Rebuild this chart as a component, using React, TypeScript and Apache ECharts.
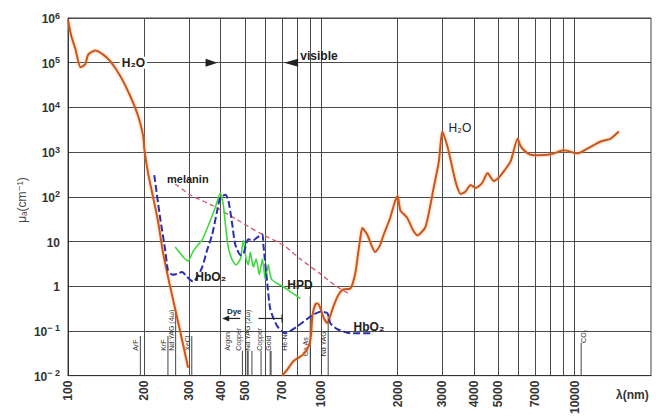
import React, { useEffect, useRef } from 'react';
import * as echarts from 'echarts';

// ---- axes ----
const xGridValues = [200, 300, 400, 500, 600, 700, 800, 900, 1000, 2000, 3000, 4000, 5000, 6000, 7000, 8000, 9000, 10000];
const xLabelValues = [100, 200, 300, 400, 500, 700, 1000, 2000, 3000, 4000, 5000, 7000, 10000];
const yTickValues = [0.01, 0.1, 1, 10, 100, 1e3, 1e4, 1e5, 1e6];

// ---- absorption spectra [wavelength nm, mu_a cm^-1] ----
const waterUV: [number, number][] = [
  [100, 9.0e5], [103, 4.0e5], [107, 2.0e5], [112, 7.9e4], [117, 9.2e4], [120, 1.5e5], [128, 1.87e5],
  [138, 1.5e5], [147, 1.07e5], [161, 5.0e4], [176, 1.8e4], [189, 6.5e3], [198, 2.3e3], [200, 1.2e3],
  [207, 340], [217, 95], [227, 27], [237, 5.8], [253, 0.98], [277, 0.1], [298, 0.015],
];
const waterIR: [number, number][] = [
  [700, 0.01], [736, 0.014], [775, 0.021], [811, 0.025], [849, 0.03], [890, 0.045], [910, 0.08],
  [922, 0.22], [948, 0.4], [968, 0.41], [990, 0.33], [1020, 0.2], [1056, 0.15], [1085, 0.22],
  [1115, 0.35], [1160, 0.6], [1220, 0.85], [1300, 0.88], [1360, 1.9], [1400, 6], [1425, 12],
  [1450, 20], [1520, 14], [1580, 8], [1630, 5.8], [1700, 8], [1760, 14], [1870, 34], [1940, 70],
  [2000, 105], [2050, 50], [2180, 34], [2300, 18], [2390, 13.7], [2570, 20.6], [2700, 70],
  [2760, 136], [2910, 625], [3000, 2900], [3150, 1300], [3250, 600], [3400, 200], [3550, 115],
  [3700, 130], [3880, 184], [4060, 158], [4300, 200], [4530, 339], [4790, 226], [5000, 263],
  [5300, 400], [5590, 625], [5950, 2000], [6120, 1340], [6520, 938], [6890, 847], [8040, 891],
  [9050, 1094], [10280, 938], [11260, 1210], [12670, 1729], [13880, 2013], [14930, 2877],
];
const melanin: [number, number][] = [
  [265, 194], [303, 111], [374, 63], [478, 28], [574, 15.2], [708, 8.3], [826, 4.05],
  [991, 1.89], [1136, 1.03], [1302, 0.65],
];
const hbo2: [number, number][] = [
  [219, 306], [231, 34], [242, 6.4], [248, 2.3], [258, 1.8], [270, 1.89], [282, 2.09], [295, 1.62],
  [312, 1.26], [324, 1.62], [339, 2.7], [354, 6.4], [371, 14.5], [388, 49], [399, 95], [418, 111],
  [429, 86], [445, 24], [457, 8.7], [479, 5.0], [492, 5.2], [515, 11.2], [539, 10.7], [559, 12.4],
  [585, 14.5], [590, 8.7], [612, 1.14], [629, 0.3], [670, 0.127], [721, 0.089], [804, 0.127],
  [905, 0.21], [991, 0.27], [1056, 0.25], [1085, 0.148], [1157, 0.109], [1302, 0.089], [1606, 0.089],
];
const hpd: [number, number][] = [
  [265, 7.5], [285, 4.5], [298, 3.66], [312, 6.1], [339, 11.2], [358, 22.9], [381, 57], [399, 122],
  [410, 66.5], [418, 24], [429, 7.5], [445, 3.85], [461, 3.0], [479, 4.05], [492, 10.7], [505, 4.05],
  [515, 3.0], [524, 5.8], [539, 2.7], [553, 4.05], [569, 1.8], [585, 4.05], [601, 1.39], [617, 3.0],
  [634, 1.47], [670, 1.14], [708, 0.975], [754, 0.76], [826, 0.53],
];

// ---- laser lines ----
const laserNames = ['ArF', 'KrF', 'Nd:YAG (4ω)', 'XeCl', 'Argon', '', 'Copper', 'Nd:YAG (2ω)', 'Copper', 'Gold', 'He-Ne', 'Ga As', 'Nd YAG', 'CO₂'];
const laserWavelengths = [193, 248, 266, 308, 488, 514, 510, 532, 578, 628, 633, 904, 1064, 10600];
const laserTops = [0.077, 0.077, 0.3, 0.077, 0.036, 0.036, 0.036, 0.036, 0.036, 0.036, 0.036, 0.59, 0.215, 0.054];

// layout of the laser labels (label base value, pixel offset)
const laserLabelBase = [0.036, 0.036, 0.036, 0.036, 0.036, 0.036, 0.036, 0.036, 0.036, 0.036, 0.036, 0.027, 0.027, 0.054];
const laserLabelDx = [-1, -1, -1, -1, -11, 0, -5, -1, 2, 2, 17, -1, -1, 6];

const FONT = "'Liberation Sans', Arial, 'DejaVu Sans', sans-serif";

export default function App() {
  const ref = useRef<HTMLDivElement>(null);
  useEffect(() => {
    document.body.style.margin = '0';
    const chart = echarts.init(ref.current!, null, { renderer: 'svg' });
    const lineSeries = (name: string, data: [number, number][], color: string, width: number, type: any, extra: any = {}) => ({
      type: 'line', name, data, showSymbol: false, symbol: 'none', smooth: 0.2, silent: true,
      lineStyle: { color, width, type, ...extra }, z: 3,
    });
    chart.setOption({
      animation: false,
      grid: { left: 68, right: 5, top: 18, bottom: 37, show: true, borderColor: '#444', borderWidth: 1 },
      xAxis: {
        type: 'log', logBase: 10, min: 100, max: 20000,
        axisLine: { show: true, lineStyle: { color: '#333', width: 1 } },
        axisTick: { show: false, customValues: xGridValues },
        axisLabel: {
          customValues: xLabelValues, rotate: 90, margin: 5, fontSize: 12, fontWeight: 'bold', color: '#333', fontFamily: FONT,
          formatter: (v: number) => String(Math.round(v)),
        },
        splitLine: { show: true, lineStyle: { color: '#4a4a4a', width: 1 } },
      },
      yAxis: {
        type: 'log', logBase: 10, min: 0.01, max: 1e6,
        axisLine: { show: true, lineStyle: { color: '#333', width: 1 } },
        axisTick: { show: false, customValues: yTickValues },
        axisLabel: {
          customValues: yTickValues, margin: 8, color: '#333', fontFamily: FONT,
          formatter: (v: number) => {
            const e = Math.round(Math.log10(v));
            if (e === 0) return '{b|1}';
            if (e === 1) return '{b|10}';
            return '{b|10}{e|' + (e < 0 ? '− ' + -e : String(e)) + '}';
          },
          rich: {
            b: { fontSize: 12, fontWeight: 'bold', fontFamily: FONT, color: '#333', verticalAlign: 'bottom', lineHeight: 14 },
            e: { fontSize: 9, fontWeight: 'bold', fontFamily: FONT, color: '#333', verticalAlign: 'bottom', lineHeight: 14, padding: [0, 0, 5, 0] },
          },
        },
        splitLine: { show: true, lineStyle: { color: '#4a4a4a', width: 1 } },
      },
      series: [
        lineSeries('water UV', waterUV, '#c9561f', 2, 'solid', { shadowColor: 'rgba(245,160,90,0.7)', shadowBlur: 3 }),
        lineSeries('water IR', waterIR, '#c9561f', 2, 'solid', { shadowColor: 'rgba(245,160,90,0.7)', shadowBlur: 3 }),
        lineSeries('melanin', melanin, '#d4586c', 1.3, [5, 3]),
        lineSeries('HPD', hpd, '#3fd83f', 1.6, 'solid'),
        lineSeries('HbO2', hbo2, '#2b2fae', 2, [7, 3]),
        {
          type: 'custom', name: 'lasers', silent: true, z: 2,
          data: laserWavelengths.map((w, i) => [w, laserTops[i]]),
          renderItem: (params: any, api: any) => {
            const i = params.dataIndex;
            const w = api.value(0);
            const top = api.value(1);
            const p0 = api.coord([w, 0.01]);
            const p1 = api.coord([w, top]);
            const pl = api.coord([w, laserLabelBase[i]]);
            return {
              type: 'group',
              children: [
                { type: 'line', shape: { x1: p0[0], y1: p0[1], x2: p1[0], y2: p1[1] }, style: { stroke: '#444', lineWidth: 1 } },
                {
                  type: 'text', x: pl[0] + laserLabelDx[i], y: pl[1], rotation: Math.PI / 2,
                  style: { text: laserNames[i], fontSize: 7, fontFamily: FONT, fill: '#333', align: 'left', verticalAlign: 'bottom' },
                },
              ],
            };
          },
        },
      ],
    });

    const px = (l: number, m: number) => chart.convertToPixel({ gridIndex: 0 }, [l, m]) as number[];
    const txt = (l: number, m: number, text: string, opts: any = {}) => {
      const p = px(l, m);
      return {
        type: 'text', x: p[0], y: p[1], z: 10,
        style: { text, fontSize: 12, fontWeight: 'bold', fontFamily: FONT, fill: '#222', align: 'left', verticalAlign: 'middle', ...opts },
      };
    };
    const a = px(400, 1e5);
    const b = px(700, 1e5);
    const d1 = px(478, 0.19);
    const d2 = px(406, 0.19);
    const d3 = px(564, 0.19);
    const d4 = px(700, 0.19);
    const graphic: any[] = [
      txt(160, 1e5, 'H₂O', { backgroundColor: '#fff', padding: [0, 2], align: 'left' }),
      { type: 'polygon', z: 10, shape: { points: [[a[0] - 3, a[1]], [a[0] - 15, a[1] - 4], [a[0] - 15, a[1] + 4]] }, style: { fill: '#222' } },
      { type: 'polygon', z: 10, shape: { points: [[b[0] + 2, b[1]], [b[0] + 16, b[1] - 4], [b[0] + 16, b[1] + 4]] }, style: { fill: '#222' } },
      txt(826, 1.4e5, 'visible'),
      txt(3177, 3520, 'H₂O', { fontWeight: 'normal', fontSize: 12 }),
      txt(246, 250, 'melanin', { fontSize: 11 }),
      txt(318, 1.62, 'HbO₂'),
      txt(734, 1.05, 'HPD'),
      txt(1340, 0.121, 'HbO₂'),
      txt(453, 0.27, 'Dye', { fontSize: 8, align: 'center' }),
      { type: 'line', z: 10, shape: { x1: d1[0], y1: d1[1], x2: d2[0] + 5, y2: d2[1] }, style: { stroke: '#222', lineWidth: 1.2 } },
      { type: 'polygon', z: 10, shape: { points: [[d2[0], d2[1]], [d2[0] + 7, d2[1] - 3], [d2[0] + 7, d2[1] + 3]] }, style: { fill: '#222' } },
      { type: 'line', z: 10, shape: { x1: d3[0], y1: d3[1], x2: d4[0], y2: d4[1] }, style: { stroke: '#222', lineWidth: 1.2 } },
      { type: 'line', z: 10, shape: { x1: d4[0], y1: d4[1] - 4, x2: d4[0], y2: d4[1] + 4 }, style: { stroke: '#222', lineWidth: 1.2 } },
      {
        type: 'text', x: 616, y: 395, z: 10,
        style: { text: 'λ(nm)', fontSize: 12, fontWeight: 'bold', fontFamily: FONT, fill: '#333', align: 'left', verticalAlign: 'middle' },
      },
      {
        type: 'text', x: 22, y: 200, rotation: Math.PI / 2, z: 10,
        style: { text: 'μₐ(cm⁻¹)', fontSize: 12, fontFamily: FONT, fill: '#444', align: 'center', verticalAlign: 'middle' },
      },
    ];
    chart.setOption({ graphic });
    return () => chart.dispose();
  }, []);
  return <div ref={ref} style={{ width: 656, height: 417 }} />;
}
